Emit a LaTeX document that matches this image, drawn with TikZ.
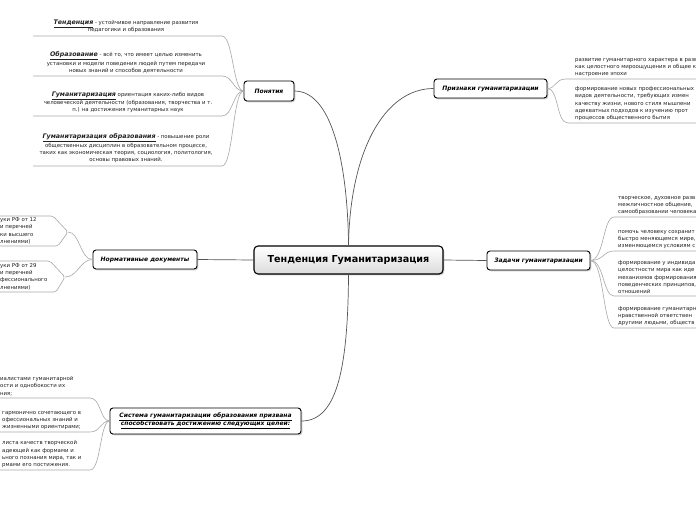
\documentclass[tikz,border=0pt]{standalone}
\usepackage{fontspec}
\setmainfont{DejaVu Sans}
\usetikzlibrary{shadows}
\definecolor{connc}{HTML}{555555}
\definecolor{leafc}{HTML}{A8A8A8}
\definecolor{txtc}{HTML}{222222}
\newcommand{\kwd}[1]{\underline{\fontsize{6.3}{7}\selectfont\bfseries\itshape #1}}
\tikzset{
  shad/.style={drop shadow={shadow xshift=1.3pt,shadow yshift=-1.3pt,fill=black!40}},
  central/.style={draw=black, line width=1.1pt, rounded corners=4pt, top color=white, bottom color=black!14,
    minimum width=189pt, minimum height=28pt, inner sep=0pt, font=\fontsize{9.6}{11}\selectfont\bfseries, shad},
  branch/.style={draw=black, line width=0.9pt, rounded corners=3pt, fill=white, inner sep=0pt,
    font=\fontsize{6}{8}\selectfont\bfseries\itshape, align=center, shad},
  mainconn/.style={draw=connc, line width=0.7pt},
  leafline/.style={draw=leafc, line width=0.6pt},
  leaftext/.style={inner sep=0pt, font=\fontsize{5.4}{7.3}\selectfont, text=txtc},
}
\begin{document}
\begin{tikzpicture}[x=1pt,y=-1pt]
\useasboundingbox (0,0) rectangle (696,520);
\fill[white] (0,0) rectangle (696,520);
\clip (0,0) rectangle (696,520);

% central and branch nodes
\node[central] (C) at (348.5,260) {Тенденция Гуманитаризация};
\node[branch, minimum width=50pt, minimum height=20pt] (P) at (269,91) {Понятия};
\node[branch, minimum width=113pt, minimum height=19pt] (R) at (490.5,88.5) {Признаки гуманитаризации};
\node[branch, minimum width=103pt, minimum height=19pt] (Z) at (538.5,260.5) {Задачи гуманитаризации};
\node[branch, minimum width=104pt, minimum height=19pt] (N) at (145,259.5) {Нормативные документы};
\node[branch, minimum width=191pt, minimum height=26pt, font=\fontsize{6}{8.5}\selectfont\bfseries\itshape] (S) at (205.5,421)
  {\underline{Система гуманитаризации образования призвана}\\\underline{способствовать достижению следующих целей:}};

% main connectors
\draw[mainconn] (C.north) .. controls (348,175) and (335,91) .. (P.east);
\draw[mainconn] (C.north) .. controls (350,150) and (385,88.5) .. (R.west);
\draw[mainconn] (C.west) -- (N.east);
\draw[mainconn] (C.east) -- (Z.west);
\draw[mainconn] (C.south) .. controls (348,375) and (335,421) .. (S.east);

% Понятия leaves
\node[leaftext, anchor=south, align=center] (p1) at (126,33.3)
  {\kwd{Тенденция} - устойчивое направление развития\\педагогики и образования};
\node[leaftext, anchor=south, align=center] (p2) at (126,73.3)
  {\kwd{Образование} - всё то, что имеет целью изменить\\установки и модели поведения людей путем передачи\\новых знаний и способов деятельности};
\node[leaftext, anchor=south, align=center] (p3) at (128,113.3)
  {\kwd{Гуманитаризация} ориентация каких-либо видов\\человеческой деятельности (образования, творчества и т.\\п.) на достижения гуманитарных наук};
\node[leaftext, anchor=south, align=center] (p4) at (126,163.3)
  {\kwd{Гуманитаризация образования} - повышение роли\\общественных дисциплин в образовательном процессе,\\таких как экономическая теория, социология, политология,\\основы правовых знаний.};
\foreach \yy/\nm in {36/pa,76/pb,116/pc,166/pd}{
  \coordinate (\nm) at (222,\yy);
  \draw[leafline] (P.west) .. controls (233,91) and (233,\yy) .. (\nm) -- (33,\yy);
}

% Признаки leaves
\node[leaftext, anchor=south west, align=left] (r1) at (575,77)
  {развитие гуманитарного характера в разв\\как целостного мироощущения и общее к\\настроение эпохи};
\node[leaftext, anchor=south west, align=left] (r2) at (575,121)
  {формирование новых профессиональных\\видов деятельности, требующих измен\\качеству жизни, нового стиля мышлени\\адекватных подходов к изучению прот\\процессов общественного бытия};
\coordinate (ra) at (566,79);
\coordinate (rb) at (568,123);
\draw[leafline] (R.east) .. controls (556,88.5) and (555,79) .. (ra) -- (700,79);
\draw[leafline] (R.east) .. controls (559,88.5) and (556,123) .. (rb) -- (700,123);

% Задачи leaves
\node[leaftext, anchor=south west, align=left] (z1) at (618,215)
  {творческое, духовное разв\\межличностное общение,\\самообразовании человека};
\node[leaftext, anchor=south west, align=left] (z2) at (618,249)
  {помочь человеку сохранит\\быстро меняющемся мире,\\изменяющемся условиям с};
\node[leaftext, anchor=south west, align=left] (z3) at (618,294)
  {формирование у индивида\\целостности мира как иде\\механизмов формирования\\поведенческих принципов,\\отношений};
\node[leaftext, anchor=south west, align=left] (z4) at (618,326)
  {формирование гуманитарн\\нравственной ответствен\\другими людьми, обществ};
\foreach \yy/\nm in {217/za,251/zb,296/zc,328/zd}{
  \coordinate (\nm) at (614,\yy);
  \draw[leafline] (Z.east) .. controls (604,260.5) and (603,\yy) .. (\nm) -- (700,\yy);
}

% Нормативные документы leaves
\node[leaftext, anchor=south west, align=left] (n1) at (0,244.5)
  {уки РФ от 12\\и перечней\\ки высшего\\лнениями)};
\node[leaftext, anchor=south west, align=left] (n2) at (0,290)
  {уки РФ от 29\\и перечней\\фессионального\\лнениями)};
\coordinate (na) at (68,232);
\coordinate (nb) at (65,277);
\draw[leafline, rounded corners=2pt] (-5,216) -- (53,216) -- (na) -- (58,246) -- (-5,246);
\draw[leafline, rounded corners=2pt] (-5,261) -- (50,261) -- (nb) -- (56,292) -- (-5,292);
\draw[leafline] (N.west) .. controls (80,259.5) and (80,232) .. (na);
\draw[leafline] (N.west) .. controls (80,259.5) and (78,277) .. (nb);

% Система leaves
\node[leaftext, anchor=south west, align=left] (s1) at (0,396)
  {иалистами гуманитарной\\ости и однобокости их\\ния;};
\node[leaftext, anchor=south west, align=left] (s2) at (2,430)
  {гармонично сочетающего в\\офессиональных знаний и\\жизненными ориентирами;};
\node[leaftext, anchor=south west, align=left] (s3) at (2,468)
  {листа качеств творческой\\адеющей как формами и\\ьного познания мира, так и\\рмами его постижения.};
\foreach \yy/\nm in {398/sa,432/sb,470/sc}{
  \coordinate (\nm) at (90,\yy);
  \draw[leafline] (S.west) .. controls (100,421) and (101,\yy) .. (\nm) -- (-5,\yy);
}
\end{tikzpicture}
\end{document}
